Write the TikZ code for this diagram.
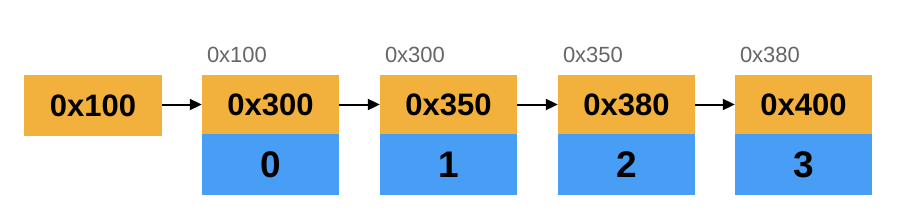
\documentclass[tikz,border=0pt]{standalone}
\usepackage{fontspec}
\setmainfont{Liberation Sans}
\usetikzlibrary{arrows.meta}
\definecolor{ptrorange}{HTML}{F2B03C}
\definecolor{valblue}{HTML}{489EF5}
\definecolor{addrgray}{HTML}{666666}
\tikzset{
  ptrbox/.style={rectangle, fill=ptrorange, minimum width=137pt, minimum height=59pt, inner sep=0pt,
    font=\bfseries\fontsize{31}{31}\selectfont},
  headbox/.style={ptrbox, minimum width=138pt, minimum height=61pt},
  valbox/.style={rectangle, fill=valblue, minimum width=137pt, minimum height=61pt, inner sep=0pt,
    font=\bfseries\fontsize{37}{37}\selectfont},
  addrlabel/.style={anchor=base west, inner sep=0pt, text=addrgray, font=\fontsize{22}{22}\selectfont},
  link/.style={line width=2pt, -{Triangle[length=12pt,width=11pt]}}
}
\begin{document}
\begin{tikzpicture}[x=1pt, y=-1pt]
\useasboundingbox (0,0) rectangle (912,220);
\node[headbox] (head) at (93,105.5) {0x100};
\node[ptrbox] (p1) at (270.5,104.5) {0x300};
\node[valbox] (v1) at (270.5,164.5) {0};
\node[ptrbox] (p2) at (448.5,104.5) {0x350};
\node[valbox] (v2) at (448.5,164.5) {1};
\node[ptrbox] (p3) at (626.5,104.5) {0x380};
\node[valbox] (v3) at (626.5,164.5) {2};
\node[ptrbox] (p4) at (803.5,104.5) {0x400};
\node[valbox] (v4) at (803.5,164.5) {3};
\node[addrlabel] (a1) at ([xshift=5pt,yshift=12pt]p1.north west) {0x100};
\node[addrlabel] (a2) at ([xshift=5pt,yshift=12pt]p2.north west) {0x300};
\node[addrlabel] (a3) at ([xshift=5pt,yshift=12pt]p3.north west) {0x350};
\node[addrlabel] (a4) at ([xshift=5pt,yshift=12pt]p4.north west) {0x380};
\draw[link] (head.east |- p1.west) -- (p1.west);
\draw[link] (p1.east) -- (p2.west);
\draw[link] (p2.east) -- (p3.west);
\draw[link] (p3.east) -- (p4.west);
\end{tikzpicture}
\end{document}
